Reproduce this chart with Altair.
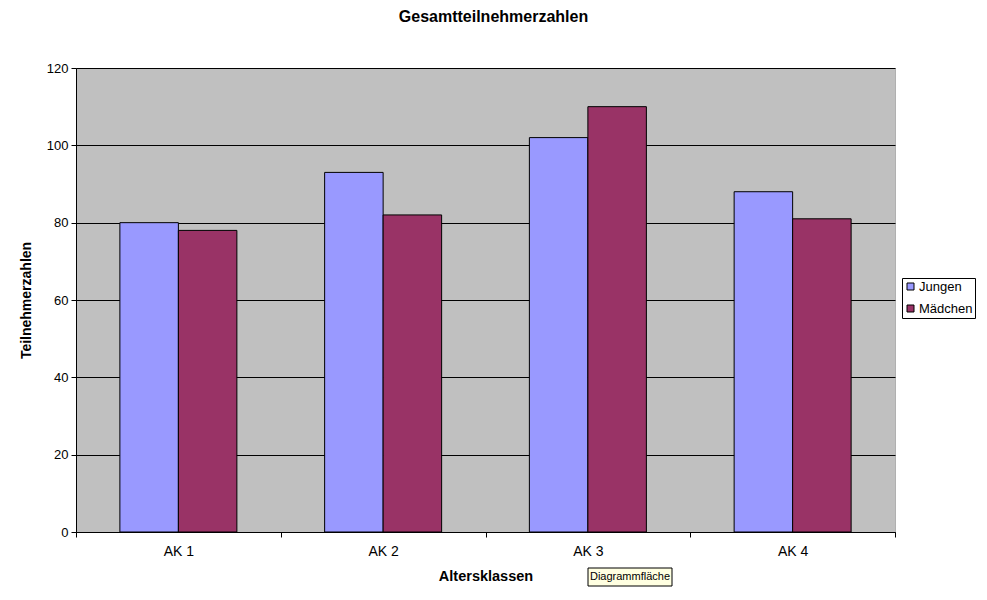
import altair as alt
import pandas as pd

categories = ["AK 1", "AK 2", "AK 3", "AK 4"]
jungen = [80, 93, 102, 88]
maedchen = [78, 82, 110, 81]
series = ["Jungen", "Mädchen"]
colors = ["#9999FF", "#993366"]

rows = []
for c, j, m in zip(categories, jungen, maedchen):
    rows.append({"AK": c, "Gruppe": "Jungen", "Wert": j})
    rows.append({"AK": c, "Gruppe": "Mädchen", "Wert": m})
df = pd.DataFrame(rows)

FONT = "Liberation Sans"

bars = alt.Chart(df).mark_bar(stroke="black", strokeWidth=1).encode(
    x=alt.X("AK:N", sort=categories,
            scale=alt.Scale(paddingInner=0, paddingOuter=0),
            axis=alt.Axis(title="Altersklassen", labelAngle=0, tickBand="extent",
                          grid=False, domainColor="black", tickColor="black",
                          tickSize=5, labelPadding=7, titlePadding=11,
                          labelFontSize=14, titleFontSize=14.5, titleFontWeight="bold",
                          labelColor="black", titleColor="black",
                          labelFont=FONT, titleFont=FONT)),
    xOffset=alt.XOffset("Gruppe:N", sort=series,
                        scale=alt.Scale(paddingInner=0, paddingOuter=0.75)),
    y=alt.Y("Wert:Q", scale=alt.Scale(domain=[0, 120], nice=False),
            axis=alt.Axis(title="Teilnehmerzahlen", values=[0, 20, 40, 60, 80, 100, 120],
                          grid=True, gridColor="black", gridOpacity=1,
                          domainColor="black", tickColor="black", tickSize=5,
                          labelFontSize=13, titleFontSize=14, titleFontWeight="bold",
                          labelColor="black", titleColor="black", labelPadding=3,
                          titlePadding=13, labelFont=FONT, titleFont=FONT)),
    color=alt.Color("Gruppe:N", sort=series,
                    scale=alt.Scale(domain=series, range=colors),
                    legend=alt.Legend(title=None, orient="none", legendX=826, legendY=210,
                                      symbolType="square", symbolSize=49,
                                      symbolStrokeColor="black", symbolStrokeWidth=1,
                                      labelFontSize=13, labelFont=FONT, labelColor="black",
                                      labelOffset=2, strokeColor="black", padding=2,
                                      rowPadding=8, fillColor="white")),
)

tip_df = pd.DataFrame({"t": ["Diagrammfläche"]})
tip_box = alt.Chart(tip_df).mark_rect(fill="#FFFFE1", stroke="black", strokeWidth=1).encode(
    x=alt.value(512), x2=alt.value(596), y=alt.value(500), y2=alt.value(518))
tip_text = alt.Chart(tip_df).mark_text(font=FONT, fontSize=11, color="black",
                                       align="center", baseline="middle").encode(
    x=alt.value(554), y=alt.value(509), text="t:N")

chart = alt.layer(bars, tip_box, tip_text).properties(
    width=819, height=464,
    title=alt.TitleParams("Gesamtteilnehmerzahlen", font=FONT, fontSize=16,
                          fontWeight="bold", color="black", offset=37, dx=8),
    autosize=alt.AutoSizeParams(type="none"),
    padding={"left": 68, "top": 60, "right": 84, "bottom": 60},
).configure_view(
    fill="#C0C0C0", stroke="#808080", strokeDash=[1, 1]
)

chart.save("out.html", embed_options={"renderer": "svg", "actions": False})
